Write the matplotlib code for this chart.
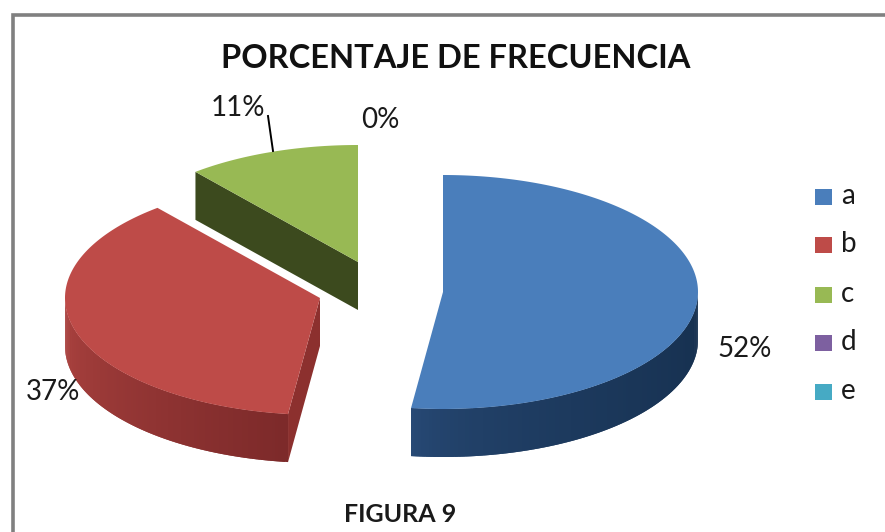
import numpy as np
import matplotlib.pyplot as plt
from matplotlib.patches import Polygon, Rectangle
from matplotlib.colors import to_rgb

categories = ['a', 'b', 'c', 'd', 'e']
values = [52, 37, 11, 0, 0]
pct_labels = ['52%', '37%', '11%', '0%']

top_colors = ['#4a7ebb', '#be4b48', '#98b954', '#7d60a0', '#46aac4']
wall_light = ['#2b4f7e', '#ad4340', '#3f4f20']
wall_dark = ['#16304f', '#7d2a2a', '#3f4f20']
wall_power = [0.4, 1.0, 1.0]
cut_colors = ['#1f3a60', '#8c302e', '#3c4a1e']

# centre of each exploded slice, in picture pixels
centres = [(443, 292), (320, 298), (358, 262)]
RX, RY, DEPTH = 255, 117, 48

plt.rcParams['font.family'] = ['Lato', 'DejaVu Sans']
fig = plt.figure(figsize=(8.85, 5.32), dpi=100)
ax = fig.add_axes([0, 0, 1, 1])
ax.set_xlim(0, 885)
ax.set_ylim(532, 0)
ax.axis('off')

# outer frame of the chart
ax.plot([13, 13, 885], [532, 15, 15], color='#808080', lw=2.6, solid_joinstyle='miter')


def rim(c, t):
    return c[0] + RX * np.sin(t), c[1] - RY * np.cos(t)


fracs = np.cumsum([0] + values) / sum(values) * 2 * np.pi
# back to front: green, red, blue
for i in [2, 1, 0]:
    c = centres[i]
    t0, t1 = fracs[i], fracs[i + 1]
    t = np.linspace(t0, t1, 200)
    x, y = rim(c, t)

    # cut faces
    if i in (1, 2):
        ex, ey = rim(c, t0)
        ax.add_patch(Polygon([c, (ex, ey), (ex, ey + DEPTH), (c[0], c[1] + DEPTH)],
                             color=cut_colors[i], lw=0))

    # outer wall as shaded strips, each one overlapping the next so no seams show
    lo, hi = max(t0, np.pi / 2), min(t1, 3 * np.pi / 2)
    if lo < hi:
        strips = np.linspace(lo, hi, 120)
        step = strips[1] - strips[0]
        light, dark = np.array(to_rgb(wall_light[i])), np.array(to_rgb(wall_dark[i]))
        for s0 in strips[:-1][::-1]:
            arc = np.linspace(s0, min(s0 + 2 * step, hi), 5)
            ax_, ay_ = rim(c, arc)
            pts = np.vstack([np.column_stack([ax_, ay_]),
                             np.column_stack([ax_, ay_ + DEPTH])[::-1]])
            span = (s0 - lo) / (hi - lo)
            # blue is lightest at its left end, red is darkest at its cut end
            if i == 0:
                w = (1 - span) ** wall_power[i]
            else:
                w = 1 - span
            ax.add_patch(Polygon(pts, color=light + (dark - light) * w, lw=0))

    # top face
    ax.add_patch(Polygon(np.vstack([c, np.column_stack([x, y])]), color=top_colors[i], lw=0))

# percentage labels
label_pos = [(745, 349), (53, 392), (238, 108), (380, 120)]
for txt, (lx, ly) in zip(pct_labels, label_pos):
    ax.text(lx, ly, txt, fontsize=20, color='#1a1a1a', ha='center', va='center')
ax.plot([268, 273], [116, 151], color='black', lw=1.4)

# legend
legend_y = [197, 245, 295, 343, 392]
for cat, col, ly in zip(categories, top_colors, legend_y):
    ax.add_patch(Rectangle((815, ly - 8), 17, 16, color=col, lw=0))
    ax.text(841, ly - 1, cat, fontsize=20, color='#1a1a1a', ha='left', va='center')

ax.text(456, 58, 'PORCENTAJE DE FRECUENCIA', fontsize=23.5, fontweight='bold',
        color='#111111', ha='center', va='center')
ax.text(400, 514, 'FIGURA 9', fontsize=18, fontweight='bold',
        color='#1a1a1a', ha='center', va='center')

fig.savefig('out.png', dpi=100)
